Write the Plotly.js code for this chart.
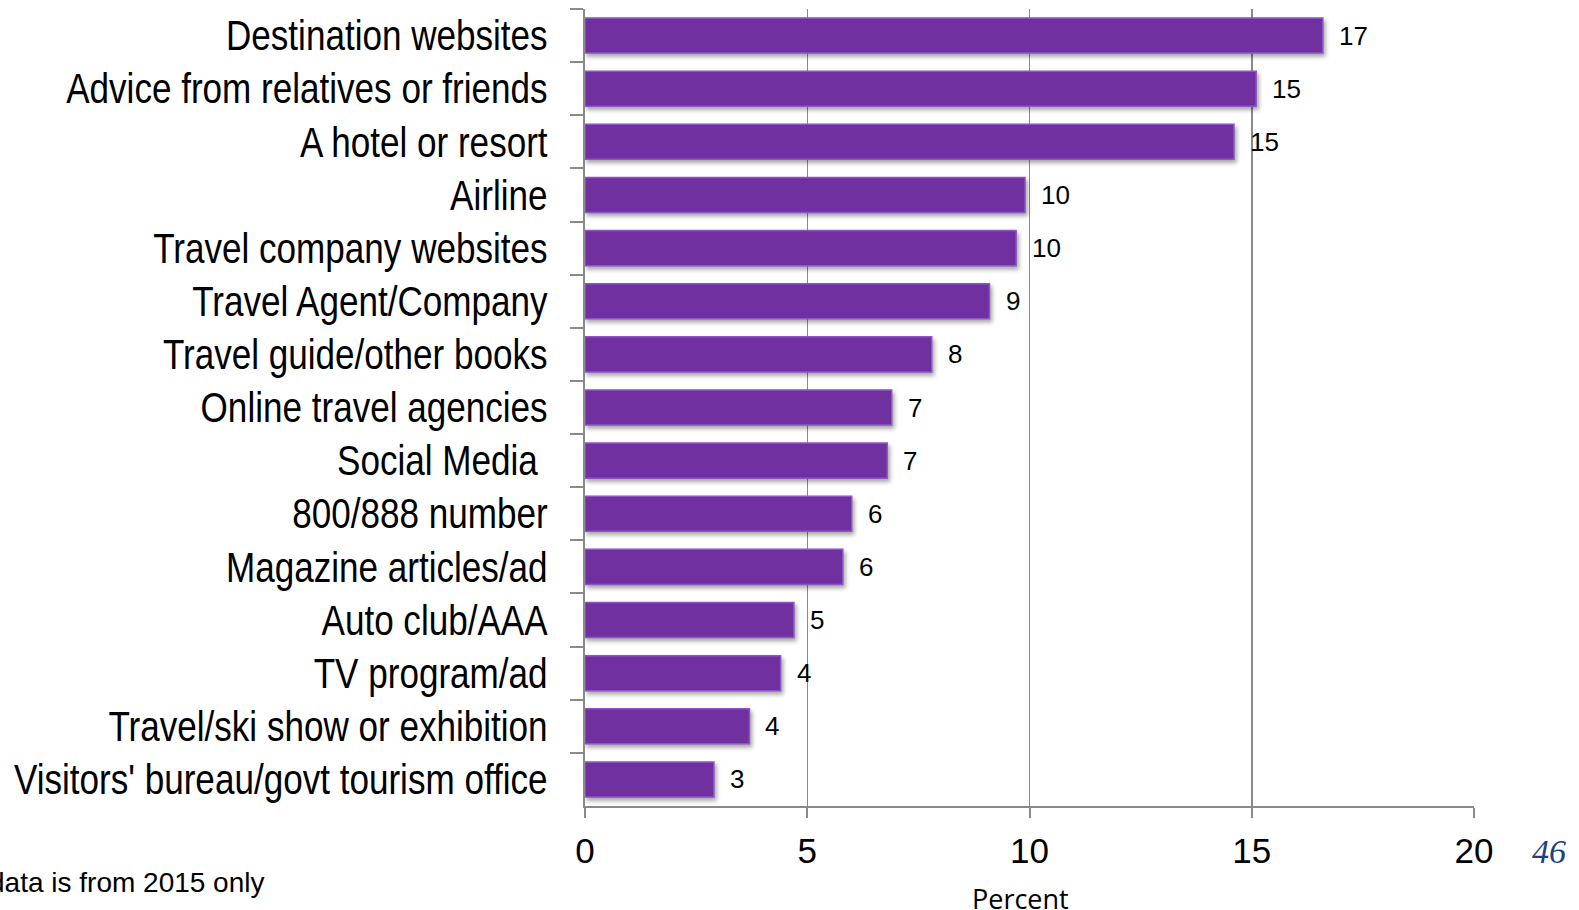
<!DOCTYPE html>
<html>
<head>
<meta charset="utf-8">
<script src="https://cdn.plot.ly/plotly-3.0.1.min.js"></script>
<style>
  html, body { margin: 0; padding: 0; background: #fff; }
  #chart { width: 1579px; height: 910px; }
  .barlayer .point path { filter: drop-shadow(2px 3px 2px rgba(0,0,0,0.35)); }
</style>
</head>
<body>
<div id="chart"></div>
<script>
const categories = [
  "Destination websites",
  "Advice from relatives or friends",
  "A hotel or resort",
  "Airline",
  "Travel company websites",
  "Travel Agent/Company",
  "Travel guide/other books",
  "Online travel agencies",
  "Social Media ",
  "800/888 number",
  "Magazine articles/ad",
  "Auto club/AAA",
  "TV program/ad",
  "Travel/ski show or exhibition",
  "Visitors' bureau/govt tourism office"
];
const values = [16.6, 15.1, 14.6, 9.9, 9.7, 9.1, 7.8, 6.9, 6.8, 6.0, 5.8, 4.7, 4.4, 3.7, 2.9];
const valueLabels = ["17", "15", "15", "10", "10", "9", "8", "7", "7", "6", "6", "5", "4", "4", "3"];
const xTickValues = [0, 5, 10, 15, 20];
const xAxisTitle = "Percent";
const footnote = "data is from 2015 only";
const pageNumber = "46";

const trace = {
  type: "bar",
  orientation: "h",
  x: values,
  y: categories,
  marker: { color: "#7030A0", line: { color: "#8E55C6", width: 1.5 } },
  hoverinfo: "x+y"
};

const annotations = categories.map((c, i) => ({
  x: values[i], y: c, xref: "x", yref: "y",
  text: valueLabels[i], showarrow: false,
  xanchor: "left", xshift: 14,
  font: { family: "Liberation Sans, Arial, sans-serif", size: 26, color: "#000" }
}));

annotations.push({
  xref: "paper", yref: "paper", x: 0.49, y: -0.1157,
  text: xAxisTitle, showarrow: false, xanchor: "center", yanchor: "middle",
  font: { family: "Open Sans, sans-serif", size: 27, color: "#000" }
});
annotations.push({
  xref: "paper", yref: "paper", x: -0.3577, y: -0.0954,
  text: footnote, showarrow: false, xanchor: "right", yanchor: "middle",
  font: { family: "Liberation Sans, Arial, sans-serif", size: 28, color: "#000" }
});
annotations.push({
  xref: "paper", yref: "paper", x: 1.0844, y: -0.0565,
  text: "<i>" + pageNumber + "</i>", showarrow: false, xanchor: "center", yanchor: "middle",
  font: { family: "Liberation Serif, Times New Roman, serif", size: 34, color: "#1F3F80" }
});

const layout = {
  width: 1579, height: 910,
  margin: { l: 585, r: 105, t: 9, b: 104, pad: 0 },
  paper_bgcolor: "#fff", plot_bgcolor: "#fff",
  bargap: 0.34,
  showlegend: false,
  xaxis: {
    range: [0, 20],
    tickvals: xTickValues,
    ticktext: xTickValues.map(String),
    showgrid: true, gridcolor: "#8A8A8A", gridwidth: 1.5,
    zeroline: false,
    showline: true, linecolor: "#8A8A8A", linewidth: 2,
    ticks: "outside", ticklen: 10, tickwidth: 2, tickcolor: "#8A8A8A",
    tickfont: { family: "Liberation Sans, Arial, sans-serif", size: 35, color: "#000" },
    ticklabelstandoff: 3,
    fixedrange: true
  },
  yaxis: {
    autorange: "reversed",
    type: "category",
    showgrid: false, zeroline: false,
    showline: true, linecolor: "#8A8A8A", linewidth: 2,
    ticks: "outside", ticklen: 13, tickwidth: 2, tickcolor: "#8A8A8A",
    tickson: "boundaries",
    tickfont: { family: "Liberation Sans, Arial, sans-serif", size: 42, color: "#000" },
    ticklabelstandoff: 27,
    fixedrange: true
  },
  annotations: annotations
};

Plotly.newPlot("chart", [trace], layout, { displayModeBar: false, staticPlot: true }).then(() => {
  // Condense the category labels to mimic a narrow sans-serif face
  document.querySelectorAll("#chart .ytick text").forEach(t => {
    const w = t.getComputedTextLength();
    t.setAttribute("textLength", (w * 0.835).toFixed(1));
    t.setAttribute("lengthAdjust", "spacingAndGlyphs");
  });
});
</script>
</body>
</html>
